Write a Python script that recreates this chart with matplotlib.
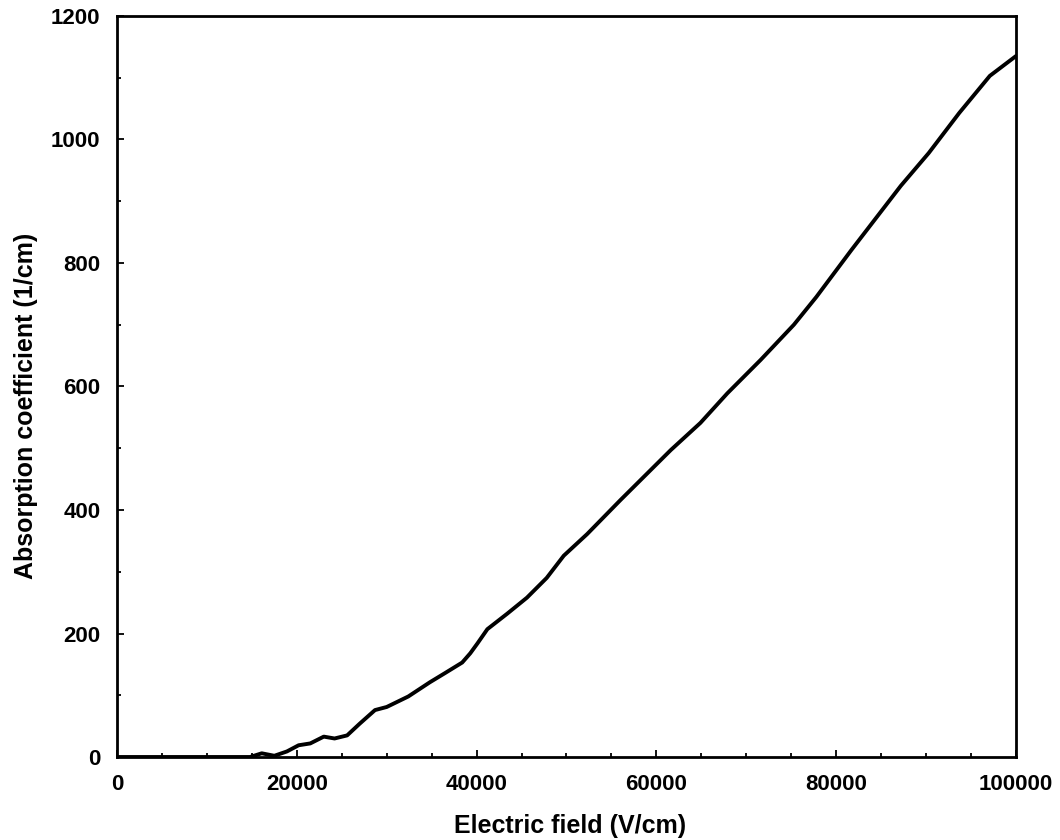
import matplotlib.pyplot as plt
from matplotlib.ticker import MultipleLocator

plt.rcParams['font.family'] = ['Liberation Sans', 'DejaVu Sans']
plt.rcParams['font.weight'] = 'bold'

# electric field (V/cm)
field = [0, 5000, 10000, 14800, 16100, 17500, 18900, 20200, 21500, 23000,
         24200, 25600, 27000, 28700, 30000, 32400, 34800, 36500, 38400, 39300,
         40100, 41200, 43400, 45600, 47800, 49700, 52300, 56000, 61600, 64900,
         67900, 71600, 75300, 77800, 81700, 87200, 90300, 93700, 97100, 100000]
# absorption coefficient (1/cm)
absorption = [0, 0, 0, 0, 6, 2, 9, 19, 22, 33,
              30, 35, 54, 76, 81, 98, 121, 136, 153, 168,
              184, 207, 232, 258, 290, 326, 361, 416, 497, 541,
              589, 643, 700, 745, 821, 925, 978, 1043, 1103, 1135]

fig = plt.figure(figsize=(10.6, 8.4), dpi=100)
ax = fig.add_axes([0.1104, 0.0988, 0.848, 0.8822])

ax.plot(field, absorption, color='black', lw=2.8, solid_capstyle='round',
        solid_joinstyle='round')

ax.set_xlim(0, 100000)
ax.set_ylim(0, 1200)
ax.xaxis.set_major_locator(MultipleLocator(20000))
ax.xaxis.set_minor_locator(MultipleLocator(5000))
ax.yaxis.set_major_locator(MultipleLocator(200))
ax.yaxis.set_minor_locator(MultipleLocator(100))

ax.tick_params(which='both', direction='in', width=1.3, labelsize=16, pad=12)
ax.tick_params(which='major', length=5)
ax.tick_params(which='minor', length=3)
for s in ax.spines.values():
    s.set_linewidth(2.0)

ax.set_xlabel('Electric field (V/cm)', fontsize=18, fontweight='bold')
ax.set_ylabel('Absorption coefficient (1/cm)', fontsize=18, fontweight='bold')
ax.xaxis.set_label_coords(0.504, -0.077)
ax.yaxis.set_label_coords(-0.088, 0.474)

fig.savefig('out.png', dpi=100)
